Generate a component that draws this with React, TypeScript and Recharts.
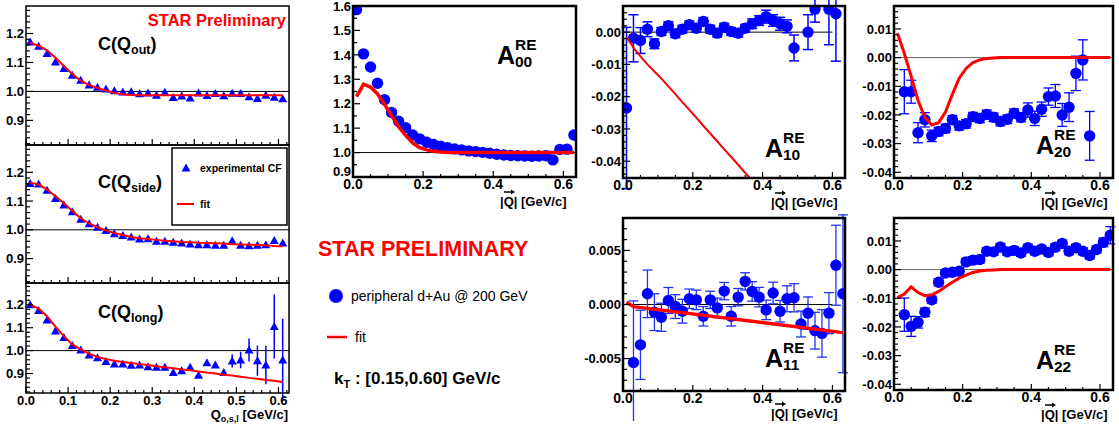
import React from "react";
import {
  ScatterChart,
  Scatter,
  XAxis,
  YAxis,
  ErrorBar,
  ReferenceLine,
} from "recharts";

const FONT = "'Liberation Sans', Arial, Helvetica, sans-serif";
const BLUE = "#0000ff";
const RED = "#ff0000";

// |Q| bins (GeV/c)
const qC = [
  0.01, 0.03, 0.05, 0.07, 0.09, 0.11, 0.13, 0.15, 0.17, 0.19, 0.21, 0.23,
  0.25, 0.27, 0.29, 0.31, 0.33, 0.35, 0.37, 0.39, 0.41, 0.43, 0.45, 0.47,
  0.49, 0.51, 0.53, 0.55, 0.57, 0.59, 0.61,
];
const qA = [
  0.01, 0.03, 0.05, 0.07, 0.09, 0.11, 0.13, 0.15, 0.17, 0.19, 0.21, 0.23,
  0.25, 0.27, 0.29, 0.31, 0.33, 0.35, 0.37, 0.39, 0.41, 0.43, 0.45, 0.47,
  0.49, 0.51, 0.53, 0.55, 0.57, 0.59, 0.61, 0.63,
];
const qFrom03 = [
  0.03, 0.05, 0.07, 0.09, 0.11, 0.13, 0.15, 0.17, 0.19, 0.21, 0.23, 0.25,
  0.27, 0.29, 0.31, 0.33, 0.35, 0.37, 0.39, 0.41, 0.43, 0.45, 0.47, 0.49,
  0.51, 0.53, 0.55, 0.57, 0.59, 0.61, 0.63,
];

// 1D correlation functions
const cOut = [
  1.171, 1.156, 1.131, 1.102, 1.079, 1.056, 1.039, 1.022, 1.014, 1.008, 1.002,
  0.998, 0.999, 0.992, 0.995, 0.987, 0.997, 0.979, 0.984, 0.977, 0.995, 0.986,
  0.993, 0.985, 0.994, 0.993, 0.982, 0.976, 0.987, 0.98, 0.975,
];
const cOutFit = [
  1.168, 1.158, 1.142, 1.116, 1.088, 1.06, 1.037, 1.022, 1.012, 1.003, 0.995,
  0.99, 0.988, 0.987, 0.987, 0.987, 0.987, 0.987, 0.987, 0.987, 0.987, 0.987,
  0.987, 0.987, 0.987, 0.987, 0.987, 0.987, 0.987, 0.987, 0.987,
];
const cSide = [
  1.161, 1.159, 1.138, 1.109, 1.086, 1.063, 1.037, 1.021, 1.009, 0.998, 0.986,
  0.98, 0.975, 0.968, 0.969, 0.96, 0.96, 0.957, 0.954, 0.951, 0.948, 0.948,
  0.946, 0.946, 0.962, 0.946, 0.945, 0.946, 0.948, 0.963, 0.954,
];
const cSideFit = [
  1.164, 1.158, 1.14, 1.117, 1.092, 1.066, 1.04, 1.022, 1.009, 0.998, 0.989,
  0.982, 0.975, 0.971, 0.968, 0.965, 0.962, 0.96, 0.958, 0.957, 0.955, 0.954,
  0.953, 0.952, 0.95, 0.949, 0.948, 0.947, 0.946, 0.944, 0.943,
];
const cLong = [
  1.2, 1.175, 1.134, 1.086, 1.057, 1.022, 1.003, 0.981, 0.969, 0.952, 0.942,
  0.942, 0.936, 0.937, 0.93, 0.927, 0.927, 0.905, 0.912, 0.927, 0.893, 0.947,
  0.937, 0.904, 0.955, 0.959, 1.003, 0.956, 0.937, 1.105, 0.959,
];
const cLongErr = [
  0.003, 0.003, 0.003, 0.003, 0.003, 0.003, 0.003, 0.003, 0.003, 0.003, 0.003,
  0.003, 0.003, 0.003, 0.004, 0.004, 0.004, 0.005, 0.005, 0.006, 0.006, 0.008,
  0.01, 0.015, 0.029, 0.036, 0.05, 0.066, 0.084, 0.14, 0.18,
];
const cLongFit = [
  1.2, 1.183, 1.15, 1.105, 1.063, 1.027, 1.005, 0.987, 0.972, 0.963, 0.956,
  0.95, 0.946, 0.941, 0.937, 0.932, 0.927, 0.923, 0.918, 0.914, 0.909, 0.904,
  0.9, 0.895, 0.891, 0.886, 0.881, 0.877, 0.872, 0.868, 0.863,
];

// spherical harmonic moments
const a00 = [
  1.585, 1.404, 1.35, 1.284, 1.216, 1.164, 1.128, 1.102, 1.072, 1.056, 1.042,
  1.033, 1.026, 1.02, 1.015, 1.011, 1.007, 1.004, 1.001, 0.997, 0.993, 0.99,
  0.988, 0.987, 0.986, 0.985, 0.986, 0.987, 0.97, 1.013, 1.014, 1.072,
];
const a00Fit = [
  1.229, 1.28, 1.268, 1.24, 1.197, 1.152, 1.106, 1.07, 1.04, 1.02, 1.011,
  1.005, 1.002, 1.0, 1.0, 1.0, 1.0, 1.0, 1.0, 1.0, 1.0, 1.0, 1.0, 1.0, 1.0,
  1.0, 1.0, 1.0, 1.0, 1.0, 1.0, 1.0,
];

const qA10 = [
  0.01, 0.03, 0.05, 0.07, 0.09, 0.11, 0.13, 0.15, 0.17, 0.19, 0.21, 0.23,
  0.25, 0.27, 0.29, 0.31, 0.33, 0.35, 0.37, 0.39, 0.41, 0.43, 0.45, 0.47,
  0.49, 0.53, 0.55, 0.59, 0.61,
];
const a10 = [
  -0.0235, -0.0019, -0.0026, 0.0009, -0.0036, 0.0002, 0.002, -0.0005, 0.0009,
  0.0023, 0.0012, 0.0033, 0.0009, -0.0003, 0.0015, 0.0002, -0.0003, 0.0012,
  0.0026, 0.0036, 0.0048, 0.0036, 0.0026, 0.0018, -0.0049, 0.0, 0.0071,
  0.0071, 0.0057,
];
const a10Err = [
  0.025, 0.0073, 0.004, 0.0023, 0.0015, 0.0012, 0.0012, 0.0012, 0.0012,
  0.0012, 0.0012, 0.0012, 0.0012, 0.0012, 0.0012, 0.0012, 0.0012, 0.0012,
  0.0015, 0.0015, 0.002, 0.0018, 0.002, 0.002, 0.004, 0.0054, 0.004, 0.011,
  0.0147,
];
const a10FitX = [
  0.01, 0.03, 0.05, 0.07, 0.09, 0.11, 0.13, 0.15, 0.17, 0.19, 0.21, 0.23,
  0.25, 0.27, 0.29, 0.31, 0.33, 0.35, 0.37,
];
const a10Fit = [
  -0.0015, -0.0048, -0.0075, -0.01, -0.0122, -0.0144, -0.0168, -0.0192,
  -0.0217, -0.0241, -0.0265, -0.029, -0.0314, -0.0338, -0.0363, -0.0387,
  -0.0411, -0.0436, -0.046,
];

const qA20 = [
  0.03, 0.05, 0.07, 0.09, 0.11, 0.13, 0.15, 0.17, 0.19, 0.21, 0.23, 0.25,
  0.27, 0.29, 0.31, 0.33, 0.35, 0.37, 0.39, 0.41, 0.43, 0.45, 0.47, 0.49,
  0.51, 0.53, 0.55, 0.57,
];
const a20 = [
  -0.0119, -0.0119, -0.0262, -0.0217, -0.0273, -0.0258, -0.0247, -0.0217,
  -0.0238, -0.0231, -0.0206, -0.0212, -0.0198, -0.0208, -0.0223, -0.0215,
  -0.0194, -0.0209, -0.0183, -0.0212, -0.018, -0.0136, -0.0134, -0.02,
  -0.0173, -0.0055, -0.0008, -0.0273,
];
const a20Err = [
  0.0077, 0.004, 0.0035, 0.0025, 0.002, 0.0015, 0.0015, 0.0015, 0.0015,
  0.0015, 0.0015, 0.0015, 0.0015, 0.0015, 0.0015, 0.0015, 0.0015, 0.0015,
  0.0025, 0.0025, 0.0025, 0.003, 0.004, 0.004, 0.005, 0.006, 0.007, 0.0085,
];
const a20Fit = [
  0.0085, 0.0015, -0.0065, -0.015, -0.0208, -0.0235, -0.0227, -0.019,
  -0.0128, -0.0072, -0.0038, -0.0017, -0.0008, -0.0003, -0.0001, 0, 0, 0, 0,
  0, 0, 0, 0, 0, 0, 0, 0, 0, 0, 0, 0, 0,
];

const a11 = [
  -0.00537, -0.00373, 0.00099, -0.00071, -0.00118, 0.00037, -0.00019,
  -0.00062, 0.00053, 0.00043, -0.00109, 0.00043, -0.00031, 0.00124, -0.00109,
  0.00068, 0.00214, 0.00121, 0.00068, -0.0005, 0.00106, -0.00062, 0.00053,
  0.00062, -0.0018, -0.0008, -0.00242, -0.00267, -0.0008, 0.00363, 0.00099,
];
const a11Err = [
  0.0057, 0.0032, 0.0022, 0.0017, 0.0013, 0.0012, 0.0011, 0.0011, 0.0009,
  0.0009, 0.0009, 0.0008, 0.0009, 0.0008, 0.0009, 0.0008, 0.0008, 0.0009,
  0.0009, 0.0009, 0.001, 0.001, 0.0012, 0.0013, 0.0012, 0.0015, 0.0017,
  0.0022, 0.0019, 0.0037, 0.0073,
];
const a11FitX = [0.01, 0.03, 0.63];
const a11Fit = [0.0002, -0.0002, -0.0026];

const a22 = [
  -0.0157, -0.0198, -0.0184, -0.0149, -0.0105, -0.0044, -0.0012, -0.0009,
  -0.0006, 0.0027, 0.0033, 0.0035, 0.0064, 0.0062, 0.0079, 0.0062, 0.0067,
  0.0058, 0.0076, 0.0064, 0.0072, 0.006, 0.0078, 0.0091, 0.0064, 0.0076,
  0.0064, 0.0049, 0.007, 0.0095, 0.012,
];
const a22Err = [
  0.0058, 0.0035, 0.002, 0.0015, 0.0012, 0.0012, 0.0012, 0.0012, 0.0012,
  0.0012, 0.0012, 0.0012, 0.0012, 0.0012, 0.0012, 0.0012, 0.0012, 0.0012,
  0.0012, 0.0012, 0.0012, 0.0012, 0.0012, 0.0012, 0.0012, 0.0012, 0.0012,
  0.0012, 0.0012, 0.0015, 0.003,
];
const a22Fit = [
  -0.0098, -0.0085, -0.006, -0.008, -0.0091, -0.0088, -0.0076, -0.006,
  -0.0044, -0.003, -0.0019, -0.001, -0.0005, -0.0002, -0.0001, 0, 0, 0, 0, 0,
  0, 0, 0, 0, 0, 0, 0, 0, 0, 0, 0, 0,
];

// tick labels
const cYTicks = [0.9, 1.0, 1.1, 1.2];
const cXTicks = [0, 0.1, 0.2, 0.3, 0.4, 0.5, 0.6];
const aXTicks = [0, 0.2, 0.4, 0.6];
const a00YTicks = [0.9, 1.0, 1.1, 1.2, 1.3, 1.4, 1.5, 1.6];
const a10YTicks = [-0.04, -0.03, -0.02, -0.01, 0];
const a20YTicks = [-0.04, -0.03, -0.02, -0.01, 0, 0.01];
const a11YTicks = [-0.005, 0, 0.005];

type Pt = { x: number; y: number; err: number };
type Box = { l: number; t: number; r: number; b: number };

const pts = (xs: number[], ys: number[], es?: number[]): Pt[] =>
  xs.map((x, i) => ({ x, y: ys[i], err: es ? es[i] : 0 }));

const MT = 12;
const MR = 12;
const YW = 60;
const XH = 30;

function withMinor(lo: number, hi: number, step: number, majors: number[]) {
  const out: number[] = [];
  const n0 = Math.ceil(lo / step - 1e-9);
  const n1 = Math.floor(hi / step + 1e-9);
  for (let i = n0; i <= n1; i++) out.push(+(i * step).toFixed(6));
  majors.forEach((m) => {
    if (!out.some((v) => Math.abs(v - m) < 1e-7)) out.push(m);
  });
  return out.sort((a, b) => a - b);
}

const isMajor = (majors: number[], v: number) =>
  majors.some((m) => Math.abs(m - v) < 1e-7);

function makeYTick(
  majors: number[],
  digits: number,
  size: number,
  bottomVal: number
) {
  return (p: any) => {
    const v = p.payload.value;
    const major = isMajor(majors, v);
    // the lowest label sits at the frame corner; nudge it up a little
    const lift = Math.abs(v - bottomVal) < 1e-7 ? 6 : 0;
    return (
      <g>
        <line
          x1={p.x}
          x2={p.x + (major ? 7 : 4)}
          y1={p.y}
          y2={p.y}
          stroke="#000"
          strokeWidth={1.2}
        />
        {major && (
          <text
            x={p.x - 2}
            y={p.y + size * 0.36 - lift}
            textAnchor="end"
            fontSize={size}
            fontWeight="bold"
            fontFamily={FONT}
            fill="#000"
          >
            {v.toFixed(digits)}
          </text>
        )}
      </g>
    );
  };
}

function makeXTick(
  majors: number[],
  digits: number,
  size: number,
  labels: boolean
) {
  return (p: any) => {
    const v = p.payload.value;
    const major = isMajor(majors, v);
    return (
      <g>
        <line
          x1={p.x}
          x2={p.x}
          y1={p.y}
          y2={p.y - (major ? 6 : 3)}
          stroke="#000"
          strokeWidth={1.2}
        />
        {major && labels && (
          <text
            x={p.x}
            y={p.y + 12}
            textAnchor="middle"
            fontSize={size}
            fontWeight="bold"
            fontFamily={FONT}
            fill="#000"
          >
            {v.toFixed(digits)}
          </text>
        )}
      </g>
    );
  };
}

type PanelProps = {
  box: Box;
  xDomain: [number, number];
  yDomain: [number, number];
  xMajor: number[];
  xMinor: number;
  xDigits: number;
  xFont: number;
  xLabels: boolean;
  yMajor: number[];
  yMinor: number;
  yDigits: number;
  yFont: number;
  children: React.ReactNode;
};

function Panel(props: PanelProps) {
  const { box } = props;
  const w = box.r - box.l;
  const h = box.b - box.t;
  const yBottomMajor = Math.min(...props.yMajor);
  const liftVal =
    props.xLabels && yBottomMajor - props.yDomain[0] < (props.yDomain[1] - props.yDomain[0]) * 0.03
      ? yBottomMajor
      : NaN;
  return (
    <div style={{ position: "absolute", left: box.l - YW, top: box.t - MT }}>
      <ScatterChart
        width={YW + w + MR}
        height={MT + h + XH}
        margin={{ top: MT, right: MR, bottom: 0, left: 0 }}
      >
        <XAxis
          type="number"
          dataKey="x"
          domain={props.xDomain}
          allowDataOverflow
          ticks={withMinor(
            props.xDomain[0],
            props.xDomain[1],
            props.xMinor,
            props.xMajor
          )}
          interval={0}
          tickSize={0}
          tickMargin={0}
          tickLine={false}
          axisLine={false}
          height={XH}
          tick={makeXTick(
            props.xMajor,
            props.xDigits,
            props.xFont,
            props.xLabels
          )}
        />
        <YAxis
          type="number"
          dataKey="y"
          domain={props.yDomain}
          allowDataOverflow
          ticks={withMinor(
            props.yDomain[0],
            props.yDomain[1],
            props.yMinor,
            props.yMajor
          )}
          interval={0}
          tickSize={0}
          tickMargin={0}
          tickLine={false}
          axisLine={false}
          width={YW}
          tick={makeYTick(props.yMajor, props.yDigits, props.yFont, liftVal)}
        />
        {props.children}
      </ScatterChart>
    </div>
  );
}

const triangle = (p: any) => (
  <polygon
    points={`${p.cx},${p.cy - 4.5} ${p.cx + 4.5},${p.cy + 3.5} ${p.cx - 4.5},${p.cy + 3.5}`}
    fill={BLUE}
  />
);
const circle = (p: any) => (
  <circle cx={p.cx} cy={p.cy} r={5.7} fill={BLUE} />
);
const noMark = () => <g />;

const boxes: Record<string, Box> = {
  c1: { l: 26, t: 6, r: 289, b: 145 },
  c2: { l: 26, t: 145, r: 289, b: 283 },
  c3: { l: 26, t: 283, r: 289, b: 393 },
  a00: { l: 353, t: 6, r: 576, b: 177 },
  a10: { l: 623, t: 6, r: 845, b: 178 },
  a20: { l: 894, t: 6, r: 1113, b: 178 },
  a11: { l: 623, t: 218, r: 845, b: 391 },
  a22: { l: 894, t: 218, r: 1113, b: 390 },
};

const cAxis = {
  xDomain: [0, 0.625] as [number, number],
  yDomain: [0.815, 1.295] as [number, number],
  xMajor: cXTicks,
  xMinor: 0.02,
  xDigits: 1,
  xFont: 13,
  yMajor: cYTicks,
  yMinor: 0.02,
  yDigits: 1,
  yFont: 13,
};

function QLabel({ right, y }: { right: number; y: number }) {
  const x0 = right - 67;
  return (
    <g>
      <text
        x={x0}
        y={y}
        fontSize={13}
        fontWeight="bold"
        fontFamily={FONT}
        fill="#000"
      >
        |Q| [GeV/c]
      </text>
      <line x1={x0 + 4} x2={x0 + 12} y1={y - 14} y2={y - 14} stroke="#000" strokeWidth={1.5} />
      <polygon
        points={`${x0 + 15},${y - 14} ${x0 + 11},${y - 16.5} ${x0 + 11},${y - 11.5}`}
        fill="#000"
      />
    </g>
  );
}

function ALabel({ x, y, sub }: { x: number; y: number; sub: string }) {
  return (
    <g fontFamily={FONT} fontWeight="bold" fill="#000">
      <text x={x} y={y} fontSize={25}>
        A
      </text>
      <text x={x + 18} y={y - 14} fontSize={15.5}>
        RE
      </text>
      <text x={x + 18} y={y + 3} fontSize={15.5}>
        {sub}
      </text>
    </g>
  );
}

function CLabel({ x, y, sub }: { x: number; y: number; sub: string }) {
  return (
    <text x={x} y={y} fontFamily={FONT} fontWeight="bold" fontSize={18} fill="#000">
      C(Q
      <tspan fontSize={12.5} dy={4}>
        {sub}
      </tspan>
      <tspan dy={-4}>)</tspan>
    </text>
  );
}

export default function App() {
  const frames = Object.entries(boxes).map(([k, b]) => (
    <rect
      key={k}
      x={b.l}
      y={b.t}
      width={b.r - b.l}
      height={b.b - b.t}
      fill="none"
      stroke="#000"
      strokeWidth={k.startsWith("c") ? 1.5 : 2.5}
    />
  ));

  return (
    <div
      style={{
        position: "absolute",
        left: 0,
        top: 0,
        width: 1119,
        height: 428,
        background: "#fff",
        overflow: "hidden",
        fontFamily: FONT,
      }}
    >
      {/* C(q_out) */}
      <Panel box={boxes.c1} {...cAxis} xLabels={false}>
        <ReferenceLine y={1} stroke="#000" strokeWidth={1} />
        <Scatter data={pts(qC, cOut)} shape={triangle} isAnimationActive={false} />
        <Scatter
          data={pts(qC, cOutFit)}
          line={{ stroke: RED, strokeWidth: 2 }}
          shape={noMark}
          isAnimationActive={false}
        />
      </Panel>

      {/* C(q_side) */}
      <Panel box={boxes.c2} {...cAxis} xLabels={false}>
        <ReferenceLine y={1} stroke="#000" strokeWidth={1} />
        <Scatter data={pts(qC, cSide)} shape={triangle} isAnimationActive={false} />
        <Scatter
          data={pts(qC, cSideFit)}
          line={{ stroke: RED, strokeWidth: 2 }}
          shape={noMark}
          isAnimationActive={false}
        />
      </Panel>

      {/* C(q_long) */}
      <Panel box={boxes.c3} {...cAxis} xLabels={true}>
        <ReferenceLine y={1} stroke="#000" strokeWidth={1} />
        <Scatter data={pts(qC, cLong, cLongErr)} shape={triangle} isAnimationActive={false}>
          <ErrorBar dataKey="err" direction="y" width={0} stroke={BLUE} strokeWidth={1.5} />
        </Scatter>
        <Scatter
          data={pts(qC, cLongFit)}
          line={{ stroke: RED, strokeWidth: 2 }}
          shape={noMark}
          isAnimationActive={false}
        />
      </Panel>

      {/* A00 */}
      <Panel
        box={boxes.a00}
        xDomain={[0, 0.636]}
        yDomain={[0.9, 1.6]}
        xMajor={aXTicks}
        xMinor={0.05}
        xDigits={1}
        xFont={14}
        xLabels={true}
        yMajor={a00YTicks}
        yMinor={0.05}
        yDigits={1}
        yFont={13}
      >
        <ReferenceLine y={1} stroke="#000" strokeWidth={1} />
        <Scatter data={pts(qA, a00)} shape={circle} isAnimationActive={false} />
        <Scatter
          data={pts(qA, a00Fit)}
          line={{ stroke: RED, strokeWidth: 3.5 }}
          shape={noMark}
          isAnimationActive={false}
        />
      </Panel>

      {/* A10 */}
      <Panel
        box={boxes.a10}
        xDomain={[0, 0.636]}
        yDomain={[-0.0452, 0.0081]}
        xMajor={aXTicks}
        xMinor={0.05}
        xDigits={1}
        xFont={14}
        xLabels={true}
        yMajor={a10YTicks}
        yMinor={0.002}
        yDigits={2}
        yFont={13}
      >
        <ReferenceLine
          segment={[
            { x: 0, y: 0 },
            { x: 0.6, y: 0 },
          ]}
          stroke="#000"
          strokeWidth={1}
        />
        <Scatter data={pts(qA10, a10, a10Err)} shape={circle} isAnimationActive={false}>
          <ErrorBar dataKey="err" direction="y" width={5} stroke={BLUE} strokeWidth={1.5} />
        </Scatter>
        <Scatter
          data={pts(a10FitX, a10Fit)}
          line={{ stroke: RED, strokeWidth: 2 }}
          shape={noMark}
          isAnimationActive={false}
        />
      </Panel>

      {/* A20 */}
      <Panel
        box={boxes.a20}
        xDomain={[0, 0.638]}
        yDomain={[-0.042, 0.018]}
        xMajor={aXTicks}
        xMinor={0.05}
        xDigits={1}
        xFont={14}
        xLabels={true}
        yMajor={a20YTicks}
        yMinor={0.002}
        yDigits={2}
        yFont={13}
      >
        <ReferenceLine y={0} stroke="#666" strokeWidth={1} />
        <Scatter data={pts(qA20, a20, a20Err)} shape={circle} isAnimationActive={false}>
          <ErrorBar dataKey="err" direction="y" width={5} stroke={BLUE} strokeWidth={1.3} />
        </Scatter>
        <Scatter
          data={pts(qA, a20Fit)}
          line={{ stroke: RED, strokeWidth: 3 }}
          shape={noMark}
          isAnimationActive={false}
        />
      </Panel>

      {/* A11 */}
      <Panel
        box={boxes.a11}
        xDomain={[0, 0.636]}
        yDomain={[-0.008, 0.008]}
        xMajor={aXTicks}
        xMinor={0.05}
        xDigits={1}
        xFont={14}
        xLabels={true}
        yMajor={a11YTicks}
        yMinor={0.001}
        yDigits={3}
        yFont={13}
      >
        <ReferenceLine
          segment={[
            { x: 0, y: 0 },
            { x: 0.6, y: 0 },
          ]}
          stroke="#000"
          strokeWidth={1}
        />
        <Scatter data={pts(qFrom03, a11, a11Err)} shape={circle} isAnimationActive={false}>
          <ErrorBar dataKey="err" direction="y" width={5} stroke="#2233ee" strokeWidth={1.3} />
        </Scatter>
        <Scatter
          data={pts(a11FitX, a11Fit)}
          line={{ stroke: RED, strokeWidth: 3.5 }}
          shape={noMark}
          isAnimationActive={false}
        />
      </Panel>

      {/* A22 */}
      <Panel
        box={boxes.a22}
        xDomain={[0, 0.638]}
        yDomain={[-0.042, 0.018]}
        xMajor={aXTicks}
        xMinor={0.05}
        xDigits={1}
        xFont={14}
        xLabels={true}
        yMajor={a20YTicks}
        yMinor={0.002}
        yDigits={2}
        yFont={13}
      >
        <ReferenceLine y={0} stroke="#666" strokeWidth={1} />
        <Scatter data={pts(qFrom03, a22, a22Err)} shape={circle} isAnimationActive={false}>
          <ErrorBar dataKey="err" direction="y" width={5} stroke={BLUE} strokeWidth={1.3} />
        </Scatter>
        <Scatter
          data={pts(qA, a22Fit)}
          line={{ stroke: RED, strokeWidth: 3 }}
          shape={noMark}
          isAnimationActive={false}
        />
      </Panel>

      <svg
        width={1119}
        height={428}
        style={{ position: "absolute", left: 0, top: 0, pointerEvents: "none" }}
      >
        {frames}

        {/* left column annotations */}
        <text
          x={286}
          y={26}
          textAnchor="end"
          fontSize={16.5}
          fontWeight="bold"
          fontFamily={FONT}
          fill={RED}
        >
          STAR Preliminary
        </text>
        <CLabel x={98} y={50} sub="out" />
        <CLabel x={98} y={188} sub="side" />
        <CLabel x={98} y={318} sub="long" />

        <rect x={172} y={148} width={115} height={77} fill="#fff" stroke="#000" strokeWidth={1.5} />
        <polygon points="186,163.5 190.5,171.5 181.5,171.5" fill={BLUE} />
        <text x={200} y={171.5} fontSize={10.5} fontWeight="bold" fontFamily={FONT}>
          experimental CF
        </text>
        <line x1={177} x2={194} y1={204} y2={204} stroke={RED} strokeWidth={2} />
        <text x={200} y={207.5} fontSize={10.5} fontWeight="bold" fontFamily={FONT}>
          fit
        </text>

        <text
          x={288}
          y={419}
          textAnchor="end"
          fontSize={13}
          fontWeight="bold"
          fontFamily={FONT}
        >
          Q
          <tspan fontSize={9} dy={3}>
            o,s,l
          </tspan>
          <tspan dy={-3}> [GeV/c]</tspan>
        </text>

        {/* moment labels */}
        <ALabel x={497} y={64} sub="00" />
        <ALabel x={765} y={157} sub="10" />
        <ALabel x={1036} y={154} sub="20" />
        <ALabel x={765} y={367} sub="11" />
        <ALabel x={1036} y={369} sub="22" />

        <QLabel right={567} y={206} />
        <QLabel right={838} y={207} />
        <QLabel right={1108} y={207} />
        <QLabel right={838} y={418} />
        <QLabel right={1108} y={419} />

        {/* middle legend */}
        <text x={318} y={256} fontSize={21.5} fontWeight="bold" fontFamily={FONT} fill={RED}>
          STAR PRELIMINARY
        </text>
        <circle cx={336} cy={296} r={7} fill={BLUE} />
        <text x={351} y={300.5} fontSize={14} fontFamily={FONT}>
          peripheral d+Au @ 200 GeV
        </text>
        <line x1={327} x2={347} y1={337} y2={337} stroke={RED} strokeWidth={2.5} />
        <text x={355} y={341.5} fontSize={14} fontFamily={FONT}>
          fit
        </text>
        <text x={334} y={384} fontSize={17} fontWeight="bold" fontFamily={FONT}>
          k
          <tspan fontSize={11} dy={4}>
            T
          </tspan>
          <tspan dy={-4}> : [0.15,0.60] GeV/c</tspan>
        </text>
      </svg>
    </div>
  );
}
